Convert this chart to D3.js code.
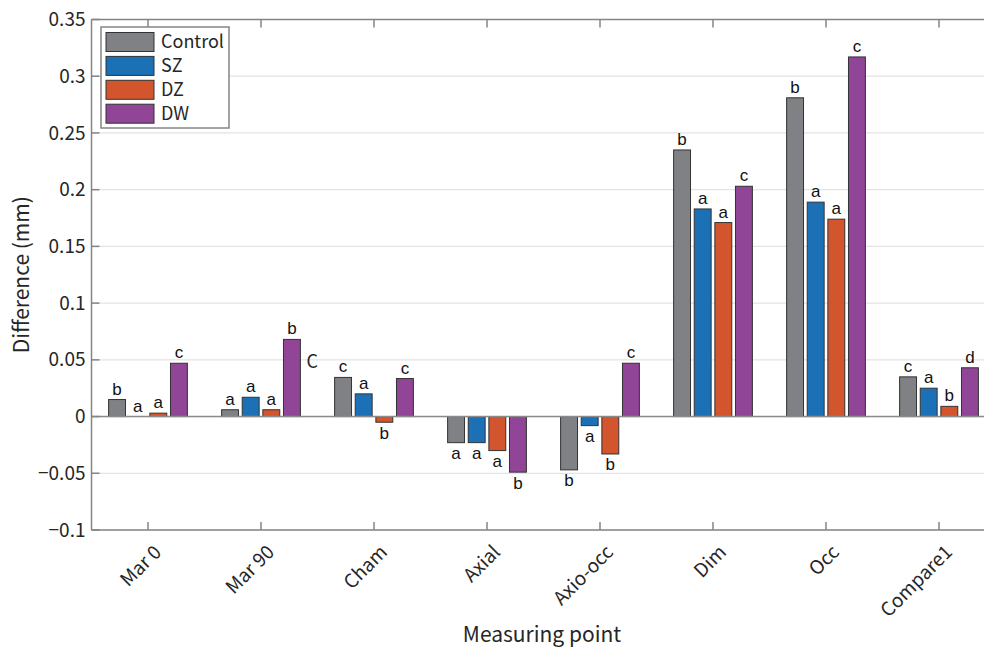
<!DOCTYPE html>
<html>
<head>
<meta charset="utf-8">
<script src="https://cdn.jsdelivr.net/npm/d3@7"></script>
<style>
  body { margin: 0; background: #fff; }
  svg text { fill: #262626; }
  .tick-label { font-family: "Noto Sans CJK KR", "Noto Sans", sans-serif; font-size: 19px; }
  .sig { font-family: "Liberation Sans", Arial, sans-serif; font-size: 17px; fill: #111; }
</style>
</head>
<body>
<div id="chart"></div>
<script>
  "use strict";
  // categories and series
  const categories = ["Mar 0", "Mar 90", "Cham", "Axial", "Axio-occ", "Dim", "Occ", "Compare1"];
  const series = ["Control", "SZ", "DZ", "DW"];
  const colors = ["#808184", "#1b70b6", "#d2552d", "#904597"];

  // differences (mm), one array per series
  const control = [0.015, 0.006, 0.0345, -0.023, -0.047, 0.235, 0.281, 0.035];
  const sz = [0.0, 0.017, 0.020, -0.023, -0.008, 0.183, 0.189, 0.025];
  const dz = [0.003, 0.006, -0.005, -0.030, -0.033, 0.171, 0.174, 0.009];
  const dw = [0.047, 0.068, 0.0335, -0.049, 0.047, 0.203, 0.317, 0.043];

  // significance letters
  const controlSig = ["b", "a", "c", "a", "b", "b", "b", "c"];
  const szSig = ["a", "a", "a", "a", "a", "a", "a", "a"];
  const dzSig = ["a", "a", "b", "a", "b", "a", "a", "b"];
  const dwSig = ["c", "b", "c", "b", "c", "c", "c", "d"];

  const yTicks = [-0.1, -0.05, 0, 0.05, 0.1, 0.15, 0.2, 0.25, 0.3, 0.35];

  const values = [control, sz, dz, dw];
  const sigs = [controlSig, szSig, dzSig, dwSig];

  const width = 984, height = 649;
  const margin = { left: 91.5, top: 19.5, bottom: 119 };
  const step = 113;
  const plotRight = margin.left + categories.length * step; // axis runs past the crop on the right

  const svg = d3.select("#chart").append("svg")
    .attr("width", width)
    .attr("height", height)
    .attr("viewBox", `0 0 ${width} ${height}`);

  const x0 = d3.scaleBand().domain(categories).range([margin.left, plotRight]).padding(0);
  const groupW = x0.bandwidth() * 0.73;
  const x1 = d3.scaleBand().domain(series).range([-groupW / 2, groupW / 2])
    .paddingInner(0.18).paddingOuter(0.09);
  const y = d3.scaleLinear().domain([-0.1, 0.35]).range([height - margin.bottom, margin.top]);
  const cx = (d) => x0(d) + x0.bandwidth() / 2;

  // Grid lines
  svg.append("g").classed("grid", true)
    .selectAll("line")
    .data(yTicks)
    .enter()
    .append("line")
    .attr("x1", margin.left)
    .attr("x2", plotRight)
    .attr("y1", (d) => y(d))
    .attr("y2", (d) => y(d))
    .attr("stroke", "#e3e3e3")
    .attr("stroke-width", 1.2);

  // Bars
  const rows = [];
  series.forEach((s, si) => {
    categories.forEach((c, ci) => {
      rows.push({ s, si, c, v: values[si][ci], sig: sigs[si][ci] });
    });
  });

  svg.append("g").classed("bars", true)
    .selectAll("rect")
    .data(rows.filter((d) => d.v !== 0))
    .enter()
    .append("rect")
    .attr("x", (d) => cx(d.c) + x1(d.s))
    .attr("width", x1.bandwidth())
    .attr("y", (d) => Math.min(y(d.v), y(0)))
    .attr("height", (d) => Math.abs(y(d.v) - y(0)))
    .attr("fill", (d) => colors[d.si])
    .attr("stroke", "#333")
    .attr("stroke-width", 1);

  // zero baseline
  svg.append("line")
    .attr("x1", margin.left)
    .attr("x2", plotRight)
    .attr("y1", y(0))
    .attr("y2", y(0))
    .attr("stroke", "#8a8a8a")
    .attr("stroke-width", 1.5);

  // Significance letters
  svg.append("g").classed("sigs", true)
    .selectAll("text")
    .data(rows)
    .enter()
    .append("text")
    .classed("sig", true)
    .attr("x", (d) => cx(d.c) + x1(d.s) + x1.bandwidth() / 2)
    .attr("y", (d) => (d.v >= 0 ? y(d.v) - 5 : y(d.v) + 16.5))
    .attr("text-anchor", "middle")
    .text((d) => d.sig);

  // stray label next to the Mar 90 DW bar
  svg.append("text")
    .classed("tick-label", true)
    .attr("x", cx("Mar 90") + x1("DW") + x1.bandwidth() + 6)
    .attr("y", y(0.068) + 29)
    .style("font-size", "18px")
    .text("C");

  // Axes box
  const axisColor = "#858585";
  const box = svg.append("g").classed("box", true)
    .attr("stroke", axisColor)
    .attr("stroke-width", 1.5)
    .attr("fill", "none");
  box.append("line").attr("x1", margin.left).attr("x2", margin.left)
    .attr("y1", y(0.35)).attr("y2", y(-0.1));
  box.append("line").attr("x1", margin.left).attr("x2", plotRight)
    .attr("y1", y(-0.1)).attr("y2", y(-0.1));
  box.append("line").attr("x1", margin.left).attr("x2", plotRight)
    .attr("y1", y(0.35)).attr("y2", y(0.35));

  // y ticks
  box.selectAll("line.ytick")
    .data(yTicks)
    .enter()
    .append("line")
    .attr("x1", margin.left)
    .attr("x2", margin.left + 8)
    .attr("y1", (d) => y(d))
    .attr("y2", (d) => y(d));

  // x ticks, bottom and top
  box.selectAll("line.xtick")
    .data(categories)
    .enter()
    .append("line")
    .attr("x1", cx)
    .attr("x2", cx)
    .attr("y1", y(-0.1))
    .attr("y2", y(-0.1) - 8);
  box.selectAll("line.xtickTop")
    .data(categories)
    .enter()
    .append("line")
    .attr("x1", cx)
    .attr("x2", cx)
    .attr("y1", y(0.35))
    .attr("y2", y(0.35) + 8);

  // y tick labels
  svg.append("g")
    .selectAll("text")
    .data(yTicks)
    .enter()
    .append("text")
    .classed("tick-label", true)
    .attr("x", margin.left - 6)
    .attr("y", (d) => y(d))
    .attr("dy", "0.35em")
    .attr("text-anchor", "end")
    .text((d) => d3.format("")(d));

  // x tick labels
  svg.append("g")
    .selectAll("text")
    .data(categories)
    .enter()
    .append("text")
    .classed("tick-label", true)
    .attr("transform", (d) => `translate(${cx(d) + 5}, ${y(-0.1) + 14}) rotate(-45)`)
    .attr("text-anchor", "end")
    .attr("dy", "0.7em")
    .text((d) => d);

  // axis titles
  svg.append("text")
    .classed("tick-label", true)
    .attr("x", 542)
    .attr("y", 642)
    .attr("text-anchor", "middle")
    .style("font-size", "21px")
    .text("Measuring point");

  svg.append("text")
    .classed("tick-label", true)
    .attr("transform", `translate(29, ${(y(0.35) + y(-0.1)) / 2}) rotate(-90)`)
    .attr("text-anchor", "middle")
    .style("font-size", "21px")
    .text("Difference (mm)");

  // Legend
  const legend = svg.append("g").classed("legend", true).attr("transform", "translate(101, 27)");
  legend.append("rect")
    .attr("width", 128)
    .attr("height", 101)
    .attr("fill", "#fff")
    .attr("stroke", axisColor)
    .attr("stroke-width", 1.5);
  const item = legend.selectAll("g.item")
    .data(series)
    .enter()
    .append("g")
    .classed("item", true)
    .attr("transform", (d, i) => `translate(5, ${5.5 + i * 23.9})`);
  item.append("rect")
    .attr("width", 48)
    .attr("height", 19)
    .attr("fill", (d, i) => colors[i])
    .attr("stroke", "#333")
    .attr("stroke-width", 1);
  item.append("text")
    .classed("tick-label", true)
    .attr("x", 55)
    .attr("y", 9.5)
    .attr("dy", "0.36em")
    .style("font-size", "18px")
    .text((d) => d);
</script>
</body>
</html>
